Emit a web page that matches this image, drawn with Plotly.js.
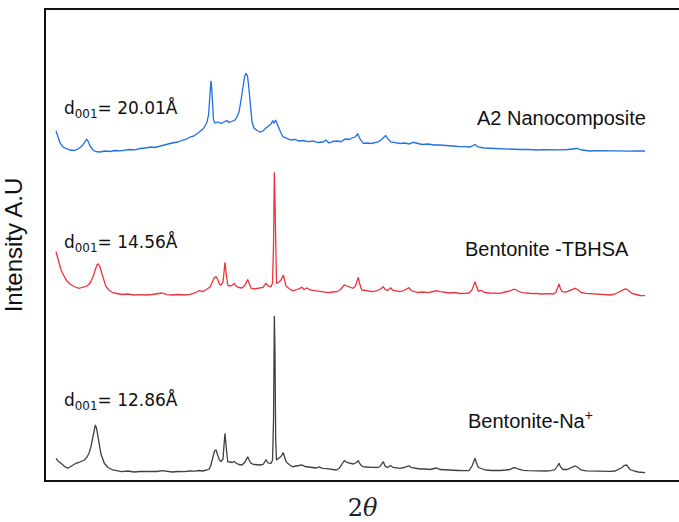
<!DOCTYPE html>
<html>
<head>
<meta charset="utf-8">
<script src="https://cdn.plot.ly/plotly-3.0.1.min.js"></script>
<style>html,body{margin:0;padding:0;background:#fff;}#chart{width:679px;height:522px;}</style>
</head>
<body>
<div id="chart"></div>
<script>
// 2-theta (degrees) and relative intensity (a.u.)
const blueX = [2.51,2.73,2.96,3.29,3.62,4.07,4.51,4.96,5.40,5.73,5.92,6.07,6.29,6.62,6.96,7.40,7.96,8.51,9.07,9.62,10.18,10.73,11.29,11.84,12.51,13.0,13.5,14.07,14.62,15.18,15.73,16.18,16.62,17.07,17.4,17.84,18.29,18.62,18.84,19.07,19.29,19.46,19.57,19.68,19.73,19.81,19.9,20.01,20.18,20.51,20.84,21.18,21.51,21.73,22.07,22.4,22.62,22.84,23.07,23.29,23.46,23.62,23.79,23.96,24.12,24.29,24.51,24.84,25.18,25.51,25.84,26.18,26.4,26.57,26.73,26.9,27.07,27.29,27.51,27.73,28.18,28.62,29.07,29.51,29.96,30.51,31.07,31.62,32.18,32.51,32.84,33.29,33.73,34.18,34.62,35.07,35.4,35.73,36.03,36.29,36.66,37.07,37.51,37.96,38.29,38.62,38.9,39.14,39.4,39.73,40.18,40.73,41.29,41.73,42.18,42.62,43.18,43.84,44.51,45.18,45.84,46.51,47.18,47.84,48.51,49.07,49.4,50.07,50.73,51.51,52.4,53.18,54.07,54.96,55.84,56.73,57.62,58.51,59.4,60.4,60.96,61.84,62.73,63.62,64.51,65.4,66.29,67.18,67.96];
const blueY = [29.3,22,17,13,11.5,10,9.5,11,14,19,20.7,19,14,10,8.3,8,9,8.5,9.5,9.2,10,10.5,10.2,11.5,12,13,12.5,14,15,16.5,17.5,18.3,20,21,23,24,27,29,31,34,38,45,60,78,79.3,72,52,40,37,38,36.5,38,39.5,37.5,39,40,43,48,60,75,83,86.7,84,70,52,38,32,29.5,28,29,32,34,36,39,37,40,36,31,27,23.3,22,20,20.5,19,19.5,18.3,19,17.5,18,20,17,18.5,19,18.3,21,20.5,22,23,26,21,16.7,17,16.5,17,18,20,23,24.5,21,18,17.3,16.5,17,16,17.7,16.5,15.5,16,15,15,14.3,14,13.5,13.3,13,15.5,13,12,11.7,11.2,11,10.7,10.5,10.7,10,10.3,10,10.2,10.5,11.5,10,9,9.3,9,9.2,9,8.8,9.2,9];

const redX = [2.51,2.73,3.07,3.4,3.73,4.07,4.51,5.07,5.51,5.96,6.29,6.62,6.9,7.07,7.21,7.4,7.62,7.84,8.07,8.4,8.81,9.29,9.84,10.51,11.18,11.84,12.51,13.18,13.73,14.3,14.84,15.4,16.07,16.73,17.4,17.96,18.4,18.84,19.29,19.62,19.84,20.07,20.29,20.51,20.66,20.84,21.07,21.18,21.29,21.4,21.59,21.84,22.07,22.32,22.51,22.84,23.18,23.51,23.68,23.81,23.96,24.18,24.51,24.84,25.18,25.51,25.84,26.07,26.4,26.57,26.68,26.77,26.84,26.92,27.01,27.29,27.51,27.77,27.96,28.07,28.4,28.81,29.18,29.51,29.84,30.07,30.4,30.73,31.18,31.62,32.18,32.73,33.29,33.73,34.07,34.34,34.54,34.84,35.18,35.51,35.79,35.96,36.1,36.23,36.48,36.84,37.29,37.77,38.18,38.51,38.88,39.07,39.34,39.7,39.96,40.4,40.73,41.18,41.51,41.73,41.96,42.29,42.73,43.29,43.84,44.4,44.81,45.18,45.73,46.29,46.84,47.4,47.96,48.4,48.73,48.9,49.07,49.23,49.43,49.73,50.18,50.73,51.29,51.84,52.4,52.96,53.29,53.51,53.84,54.29,54.84,55.4,55.96,56.51,57.18,57.77,58.07,58.23,58.4,58.57,58.73,59.18,59.62,59.96,60.18,60.51,60.84,61.4,61.96,62.51,63.07,63.62,64.18,64.62,65.07,65.4,65.73,65.96,66.18,66.51,66.96,67.4,67.96];
const redY = [48.3,40,30,24,19,16,13.5,11.7,12.5,14,17,23,31,35,36,33,26,19,13.3,10,7.3,6.5,5.5,6,5,5.3,5,5.5,6.5,7,5.3,5,5.5,5,5.7,7,9.3,8.5,11,13,17,22,23.3,20,16,15,18,30,37.7,28,15,14,14.5,16.5,14,12.5,12,15,19,20.5,17,11.7,11,11.5,11.7,12.5,16.7,14,13.3,17,55,127.7,100,30,16.7,18,20,25,17,14,11.5,9.3,10,11,12.7,10.5,12,10,9.3,8.5,8,7.3,8,8.3,10,12.5,15,14,12.5,11.7,14,19,22.7,17,10,9.5,9,8.3,9.5,10.5,13.3,10.5,9.5,12,9.5,8.5,8.3,9.5,11,12.3,9.5,8.3,7.5,8,7.3,8.5,9.3,8.3,7.5,7,7.5,6.5,6.7,7,10,15,18.3,14,9,9.5,7.5,7,6.7,6.7,8,9,10.5,10.7,9,7.3,7,6.3,6.5,6,6.3,6,8,12,16,11,8.3,8,9.5,11,11.7,10,7.5,6.7,6.5,6,5.7,5.5,5,6,8,9.5,11,10.7,9,6.5,5.5,4.5,4.3];

const blackX = [2.51,2.73,3.07,3.4,3.81,4.18,4.4,4.73,5.07,5.4,5.66,5.96,6.18,6.4,6.57,6.73,6.88,7.01,7.18,7.32,7.51,7.88,8.29,8.81,9.29,9.84,10.51,11.18,11.84,12.51,13.18,13.73,14.3,14.84,15.4,16.07,16.73,17.4,17.96,18.4,18.84,19.29,19.54,19.73,19.96,20.12,20.29,20.46,20.66,20.84,21.07,21.18,21.29,21.4,21.59,21.84,22.07,22.32,22.51,22.84,23.18,23.51,23.68,23.81,23.96,24.18,24.51,24.84,25.18,25.51,25.84,26.07,26.4,26.57,26.68,26.77,26.84,26.92,27.01,27.29,27.51,27.77,27.96,28.07,28.4,28.81,29.18,29.51,29.84,30.18,30.51,30.96,31.4,31.73,32.15,32.62,33.07,33.62,33.96,34.18,34.54,34.84,35.18,35.51,35.79,36.1,36.29,36.48,36.84,37.29,37.77,38.18,38.51,38.88,39.07,39.34,39.7,39.96,40.4,40.73,41.18,41.51,41.73,41.96,42.4,42.96,43.51,44.07,44.51,44.81,45.18,45.84,46.51,47.18,47.84,48.4,48.73,48.9,49.07,49.23,49.43,49.73,50.29,50.84,51.4,51.96,52.51,52.96,53.29,53.51,53.84,54.4,54.96,55.62,56.29,56.96,57.51,57.96,58.18,58.4,58.57,58.84,59.29,59.73,60.18,60.51,60.84,61.4,62.07,62.73,63.4,64.07,64.62,65.07,65.4,65.62,65.92,66.07,66.29,66.73,67.18,67.96];
const blackY = [21.7,19,16.7,14,11.7,13.5,15,16.7,17.5,19,20,23,27,33.3,42,50,55,52,43,33.3,26,16.7,12.5,10,9,8.3,9,8,8.5,8.3,8,8.5,9.3,8.3,8,8.5,8.3,9,8.8,9.5,9,10,11,15,24,29,30,26,20,18.5,21,35,46.7,35,18.3,18,17.5,18.5,17,15.5,15,18,22,23.3,20,16.7,15.5,15,15,15.5,20,17,16.7,20,60,164.3,130,40,20,22,23.5,27.3,22,18.3,15.5,13.3,14,14.5,15,13.5,13,12.5,12,13,11.7,11.3,11,10,11.5,15,19.3,17.5,16.5,16,17,19.3,16,14,13,12.5,12.7,12.5,13.5,18.3,14,12.5,14.5,12.5,12,11.7,12.5,13.5,14.3,12.5,11.5,11,11,10.5,11.5,12,10.5,10,9.7,9.5,9.3,9.5,14,19,21.7,17,12.7,11.5,10,9.5,9.3,9.5,10,10.5,12,12.3,11,9.7,9.3,9,9.2,9,9.3,10.5,13.5,16.7,13,10.5,10.5,12.5,14,12.5,10,9.2,9,8.8,8.5,8.7,9,11,12.5,14.5,15,13,10.5,9,8,7.3];

const seriesNames = ["A2 Nanocomposite", "Bentonite -TBHSA", "Bentonite-Na+"];
const dLabels = ["d<sub>001</sub>= 20.01Å", "d<sub>001</sub>= 14.56Å", "d<sub>001</sub>= 12.86Å"];

// vertical stacking offsets (a.u.)
const offBlue = 320, offRed = 180, offBlack = 0;
const shift = (arr, o) => arr.map(v => v + o);

const traces = [
  {x: blackX, y: shift(blackY, offBlack), type: 'scatter', mode: 'lines', name: seriesNames[2],
   line: {color: 'rgb(64,64,64)', width: 1.3}},
  {x: redX, y: shift(redY, offRed), type: 'scatter', mode: 'lines', name: seriesNames[1],
   line: {color: 'rgb(236,52,58)', width: 1.3}},
  {x: blueX, y: shift(blueY, offBlue), type: 'scatter', mode: 'lines', name: seriesNames[0],
   line: {color: 'rgb(30,112,228)', width: 1.3}}
];

const lblFont = {family: 'Liberation Sans, Arial, sans-serif', size: 20, color: '#111'};
const dFont = {family: 'DejaVu Sans, sans-serif', size: 17, color: '#111'};

const layout = {
  width: 679, height: 522,
  margin: {l: 46, r: 0, t: 10, b: 42},
  paper_bgcolor: '#fff', plot_bgcolor: '#fff',
  showlegend: false,
  xaxis: {
    range: [1.4, 71.73], showline: true, linecolor: '#111', linewidth: 2, mirror: true,
    showticklabels: false, ticks: '', showgrid: false, zeroline: false,
    title: {text: '2<i>θ</i>', font: {family: 'DejaVu Serif, serif', size: 24, color: '#222'}, standoff: 20}
  },
  yaxis: {
    range: [0, 470], showline: true, linecolor: '#111', linewidth: 2, mirror: false,
    showticklabels: false, ticks: '', showgrid: false, zeroline: false,
    title: {text: 'Intensity A.U', font: {family: 'Liberation Sans, Arial, sans-serif', size: 24, color: '#111'}, standoff: 15}
  },
  annotations: [
    {x: 49.03, y: 362, xref: 'x', yref: 'y', text: seriesNames[0], showarrow: false, xanchor: 'left', yanchor: 'middle', font: lblFont},
    {x: 47.73, y: 231, xref: 'x', yref: 'y', text: seriesNames[1], showarrow: false, xanchor: 'left', yanchor: 'middle', font: lblFont},
    {x: 48.07, y: 61, xref: 'x', yref: 'y', text: 'Bentonite-Na<sup>+</sup>', showarrow: false, xanchor: 'left', yanchor: 'middle', font: lblFont},
    {x: 3.18, y: 371, xref: 'x', yref: 'y', text: dLabels[0], showarrow: false, xanchor: 'left', yanchor: 'middle', font: dFont},
    {x: 3.18, y: 237.5, xref: 'x', yref: 'y', text: dLabels[1], showarrow: false, xanchor: 'left', yanchor: 'middle', font: dFont},
    {x: 3.18, y: 79, xref: 'x', yref: 'y', text: dLabels[2], showarrow: false, xanchor: 'left', yanchor: 'middle', font: dFont}
  ]
};

Plotly.newPlot('chart', traces, layout, {staticPlot: true, displayModeBar: false});
</script>
</body>
</html>
